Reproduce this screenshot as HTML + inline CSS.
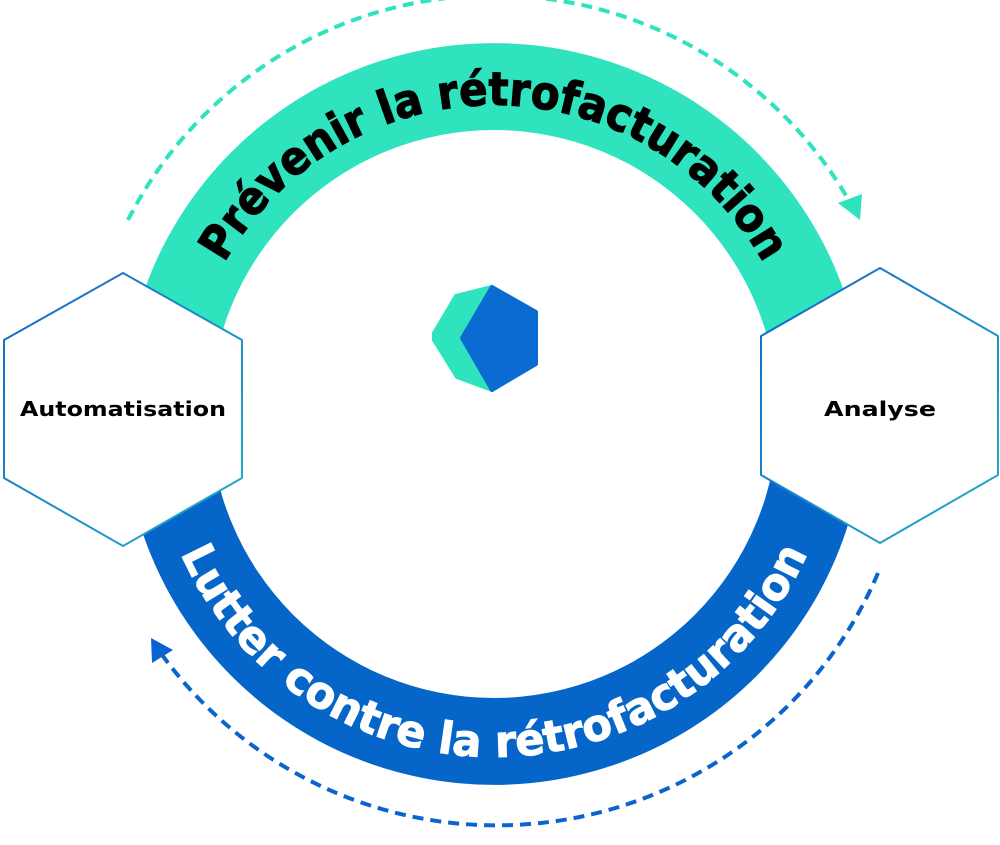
<!DOCTYPE html>
<html><head><meta charset="utf-8"><style>html,body{margin:0;padding:0;background:#fff}svg{display:block}</style></head>
<body>
<svg width="1000" height="845" viewBox="0 0 1000 845" xmlns="http://www.w3.org/2000/svg">
<defs>
<linearGradient id="hg" x1="0" y1="0" x2="1" y2="1">
<stop offset="0" stop-color="#1565c8"/><stop offset="1" stop-color="#23b0c8"/>
</linearGradient>
<path id="tp" d="M185,414 A309,309 0 0 1 803,414"/>
<path id="bp" d="M151,414 A343,343 0 0 0 837,414"/>
</defs>
<path d="M123,414 A371,371 0 0 1 865,414 L778,414 A284,284 0 0 0 210,414 Z" fill="#2ee3bd"/>
<path d="M123,414 A371,371 0 0 0 865,414 L778,414 A284,284 0 0 1 210,414 Z" fill="#0565c8"/>
<path d="M128,220 A410,410 0 0 1 852,206" fill="none" stroke="#2ee3bd" stroke-width="4" stroke-dasharray="11,7"/>
<polygon points="860,220 838,203 862,194" fill="#2ee3bd"/>
<path d="M878,573 A414,414 0 0 1 160,652" fill="none" stroke="#0a64d0" stroke-width="4" stroke-dasharray="11,7"/>
<polygon points="151,638 173,650 152,663" fill="#0a64d0"/>
<text font-family="'DejaVu Sans','Liberation Sans',sans-serif" font-weight="bold" font-size="46" fill="#000" stroke="#000" stroke-width="1.2"><textPath href="#tp" startOffset="50%" text-anchor="middle" textLength="655" lengthAdjust="spacingAndGlyphs">Prévenir la rétrofacturation</textPath></text>
<text font-family="'DejaVu Sans','Liberation Sans',sans-serif" font-weight="bold" font-size="44" fill="#fff" stroke="#fff" stroke-width="1"><textPath href="#bp" startOffset="50%" text-anchor="middle" textLength="790" lengthAdjust="spacingAndGlyphs">Lutter contre la rétrofacturation</textPath></text>
<polygon points="123,273 242,340 242,478 123,546 4,478 4,340" fill="#fff" stroke="url(#hg)" stroke-width="2" stroke-linejoin="round"/>
<polygon points="880,268 998,336 998,475 880,543 761,475 761,336" fill="#fff" stroke="url(#hg)" stroke-width="2" stroke-linejoin="round"/>
<text x="123" y="416" text-anchor="middle" font-family="'DejaVu Sans',sans-serif" font-weight="bold" font-size="20" textLength="206" lengthAdjust="spacingAndGlyphs">Automatisation</text>
<text x="880" y="416" text-anchor="middle" font-family="'DejaVu Sans',sans-serif" font-weight="bold" font-size="20" textLength="112" lengthAdjust="spacingAndGlyphs">Analyse</text>
<polygon points="456,296 492,287 462,338 492,390 457,377 434,340 434,333" fill="#2ee3bd" stroke="#2ee3bd" stroke-linejoin="round" stroke-width="4"/>
<polygon points="492,287 536,312 536,364 492,390 462,338" fill="#0a6bd0" stroke="#0a6bd0" stroke-linejoin="round" stroke-width="4"/>
</svg>
</body></html>
